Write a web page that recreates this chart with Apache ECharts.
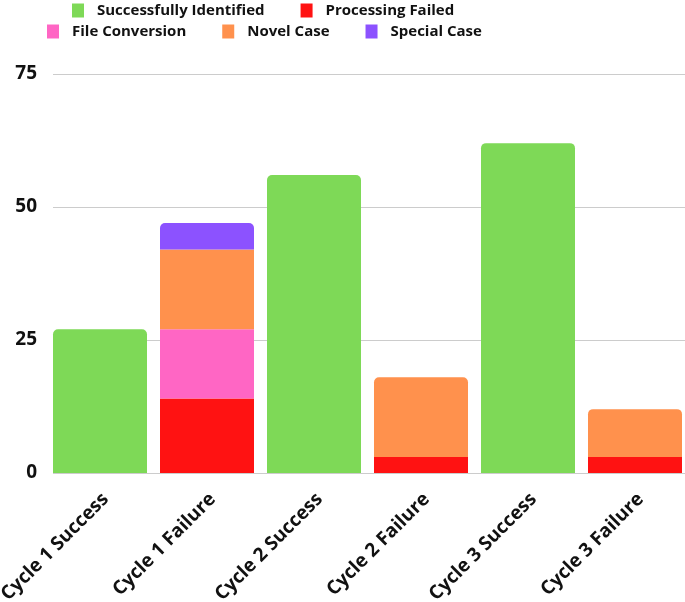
<!DOCTYPE html>
<html><head><meta charset="utf-8">
<script src="https://cdn.jsdelivr.net/npm/echarts@6/dist/echarts.min.js"></script>
<style>html,body{margin:0;padding:0;background:#fff}#c{width:685px;height:602px}</style>
</head><body><div id="c"></div>
<script>
const categories = ['Cycle 1 Success','Cycle 1 Failure','Cycle 2 Success','Cycle 2 Failure','Cycle 3 Success','Cycle 3 Failure'];
const seriesNames = ['Successfully Identified','Processing Failed','File Conversion','Novel Case','Special Case'];
const successIdentified = [27, 0, 56, 0, 62, 0];
const processingFailed  = [0, 14, 0, 3, 0, 3];
const fileConversion    = [0, 13, 0, 0, 0, 0];
const novelCase         = [0, 15, 0, 15, 0, 9];
const specialCase       = [0, 5, 0, 0, 0, 0];
const yTicks = [0, 25, 50, 75];
const colors = ['#7ed957','#ff1212','#ff66c4','#ff914d','#8c52ff'];

const allValues = [successIdentified, processingFailed, fileConversion, novelCase, specialCase];
const topIdx = categories.map((_, ci) => {
  let t = -1;
  allValues.forEach((arr, si) => { if (arr[ci] > 0) t = si; });
  return t;
});
const series = allValues.map((arr, si) => ({
  name: seriesNames[si],
  type: 'bar',
  stack: 'all',
  barWidth: 94,
  xAxisIndex: 0, yAxisIndex: 0,
  itemStyle: { color: colors[si] },
  data: arr.map((v, ci) => ({
    value: v === 0 ? null : v,
    itemStyle: { borderRadius: topIdx[ci] === si ? [5,5,0,0] : 0 }
  }))
}));
series.push({ type: 'line', xAxisIndex: 1, yAxisIndex: 1, data: [], silent: true });

const font = 'Open Sans';
const legendText = { fontFamily: font, fontWeight: 'bold', fontSize: 15, lineHeight: 14, color: '#111', padding: [0,0,0,8] };
const chart = echarts.init(document.getElementById('c'), null, { renderer: 'canvas' });
chart.setOption({
  animation: false,
  color: colors,
  grid: [
    { left: 46.5, width: 642, top: 74, bottom: 129, outerBoundsMode: 'none', containLabel: false },
    { left: 53, right: 0, top: 74, bottom: 129, outerBoundsMode: 'none', containLabel: false }
  ],
  legend: [
    { data: seriesNames.slice(0, 2), left: 72, top: 3, padding: 0, itemWidth: 12, itemHeight: 14, itemGap: 36,
      icon: 'rect', textStyle: legendText },
    { data: seriesNames.slice(2), left: 47, top: 24, padding: 0, itemWidth: 12, itemHeight: 14, itemGap: 36,
      icon: 'rect', textStyle: legendText }
  ],
  xAxis: [
    { type: 'category', gridIndex: 0, data: categories,
      axisLine: { show: false }, axisTick: { show: false },
      axisLabel: { rotate: 45, margin: 29, interval: 0, padding: [0, -8, 0, 0], fontFamily: font, fontWeight: 'bold', fontSize: 19, color: '#111' } },
    { type: 'value', gridIndex: 1, show: false, min: 0, max: 1 }
  ],
  yAxis: [
    { type: 'value', gridIndex: 0, min: 0, max: 75, interval: 25, show: false, splitLine: { show: false } },
    { type: 'value', gridIndex: 1, min: yTicks[0], max: yTicks[yTicks.length-1], interval: 25,
      axisLine: { show: false }, axisTick: { show: false },
      splitLine: { show: true, lineStyle: { color: '#cccccc', width: 1 } },
      axisLabel: { margin: 16, fontFamily: font, fontWeight: 'bold', fontSize: 19, color: '#111' } }
  ],
  series: series
});
</script></body></html>
